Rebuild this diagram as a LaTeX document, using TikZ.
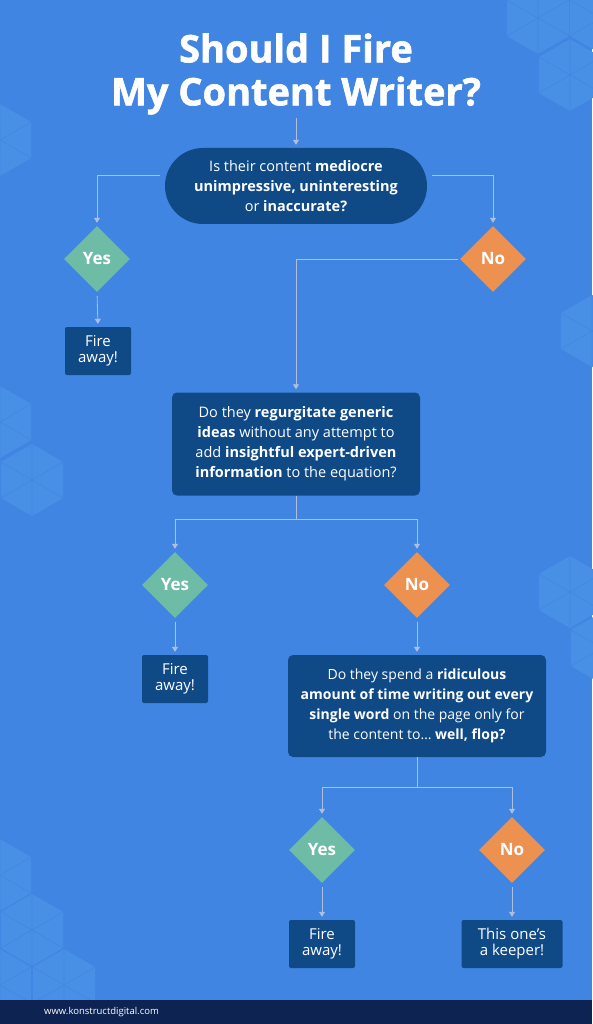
\documentclass[tikz,border=0pt]{standalone}
\usepackage{fontspec}
\setmainfont{Open Sans}
\usetikzlibrary{shapes.geometric,arrows.meta,positioning}

\definecolor{bgblue}{RGB}{65,133,227}
\definecolor{hexblue}{RGB}{72,143,230}
\definecolor{hexedge}{RGB}{66,136,226}
\definecolor{boxblue}{RGB}{15,74,135}
\definecolor{yesgreen}{RGB}{110,187,166}
\definecolor{noorange}{RGB}{236,145,80}
\definecolor{footnavy}{RGB}{13,35,82}
\definecolor{linegrey}{RGB}{172,192,222}

% faint cube-like hexagon in the background
\newcommand{\hexcube}[2]{%
    \fill[hexblue] (#1,#2) +(30:36) -- +(90:36) -- +(150:36) -- +(210:36) -- +(270:36) -- +(330:36) -- cycle;
    \draw[hexedge, line width=0.6pt] (#1,#2) +(90:36) -- +(270:36) +(30:36) -- +(210:36) +(150:36) -- +(330:36);
}

\tikzset{
    question/.style={fill=boxblue, text=white, align=center, inner sep=0pt,
        font=\fontsize{14.5}{20}\selectfont},
    answerbox/.style={fill=boxblue, text=white, align=center, inner sep=0pt,
        rounded corners=2pt, font=\fontsize{15}{16}\selectfont},
    yesdia/.style={diamond, aspect=1, fill=yesgreen, text=white, inner sep=0pt,
        minimum width=66pt, minimum height=66pt, font=\fontsize{17}{20}\selectfont\bfseries},
    nodia/.style={yesdia, fill=noorange},
    link/.style={draw=linegrey, line width=0.8pt},
    arr/.style={link, -{Triangle[width=6pt,length=5pt]}, shorten >=3pt}
}

\begin{document}
\begin{tikzpicture}[x=1pt, y=-1pt]
    % Background
    \useasboundingbox (0,0) rectangle (592,1024);
    \fill[bgblue] (0,0) rectangle (592,1024);

    % Hexagon decoration
    \hexcube{538}{18}
    \hexcube{601}{18}
    \hexcube{570}{75}
    \hexcube{0}{140}
    \hexcube{0}{422}
    \hexcube{32}{480}
    \hexcube{592}{331}
    \hexcube{570}{592}
    \hexcube{602}{648}
    \hexcube{0}{875}
    \hexcube{32}{930}
    \hexcube{0}{985}
    \hexcube{64}{985}

    % Footer
    \fill[footnavy] (0,1000) rectangle (592,1024);
    \node (site) at (44,1012) [anchor=west, text=white, inner sep=0pt,
        font=\fontsize{9.5}{11}\selectfont] {www.konstructdigital.com};

    % Title
    \node (title) at (296,74) [text=white, align=center, inner sep=0pt,
        font=\fontsize{38}{43}\selectfont\bfseries\addfontfeature{FakeBold=1.5}]
        {Should I Fire\\My Content Writer?};

    % Questions
    \node (q1) at (296,186) [question, rounded corners=38pt,
        minimum width=262pt, minimum height=76pt]
        {Is their content \textbf{mediocre}\\\textbf{unimpressive, uninteresting}\\or \textbf{inaccurate?}};
    \node (q2) at (296,444) [question, rounded corners=5pt,
        minimum width=248pt, minimum height=103pt]
        {Do they \textbf{regurgitate generic}\\\textbf{ideas} without any attempt to\\add \textbf{insightful expert-driven}\\\textbf{information} to the equation?};
    \node (q3) at (417,706) [question, rounded corners=5pt,
        minimum width=258pt, minimum height=102pt, font=\fontsize{14}{20}\selectfont]
        {Do they spend a \textbf{ridiculous}\\\textbf{amount of time writing out every}\\\textbf{single word} on the page only for\\the content to… \textbf{well, flop?}};

    % Answers
    \node (yes1) at (97,259) [yesdia] {Yes};
    \node (no1) at (493,259) [nodia] {No};
    \node (yes2) at (175,585) [yesdia] {Yes};
    \node (no2) at (417,585) [nodia] {No};
    \node (yes3) at (322,850) [yesdia] {Yes};
    \node (no3) at (512,850) [nodia] {No};

    % Outcomes
    \node (fire1) at (98,351) [answerbox, minimum width=66pt, minimum height=48pt] {Fire\\away!};
    \node (fire2) at (175,679) [answerbox, minimum width=66pt, minimum height=48pt] {Fire\\away!};
    \node (fire3) at (322,944) [answerbox, minimum width=66pt, minimum height=48pt] {Fire\\away!};
    \node (keeper) at (512,944) [answerbox, minimum width=101pt, minimum height=48pt] {This one’s\\a keeper!};

    % Connectors
    \draw[arr, shorten <=3pt] (title.south) -- (q1.north);
    \draw[arr, shorten <=5pt] ([yshift=11pt]q1.west) -| (yes1.north);
    \draw[arr, shorten <=5pt] ([yshift=11pt]q1.east) -| (no1.north);
    \draw[arr, shorten <=4pt] (yes1.south) -- (fire1.north);
    \draw[arr, shorten <=2pt] (no1.west) -| (q2.north);
    \draw[arr] (q2.south) -- ++(0,24) -| (yes2.north);
    \draw[arr] (q2.south) -- ++(0,24) -| (no2.north);
    \draw[arr, shorten <=4pt] (yes2.south) -- (fire2.north);
    \draw[arr, shorten <=4pt] (no2.south) -- (q3.north);
    \draw[arr] (q3.south) -- ++(0,30) -| (yes3.north);
    \draw[arr] (q3.south) -- ++(0,30) -| (no3.north);
    \draw[arr, shorten <=4pt] (yes3.south) -- (fire3.north);
    \draw[arr, shorten <=4pt] (no3.south) -- (keeper.north);
\end{tikzpicture}
\end{document}
